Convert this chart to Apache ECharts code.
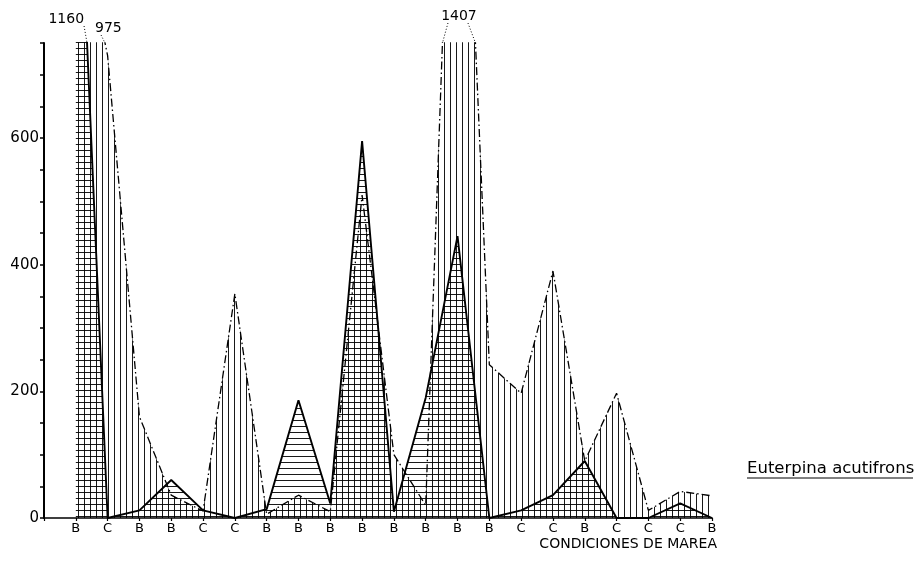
<!DOCTYPE html>
<html><head><meta charset="utf-8">
<script src="https://cdn.jsdelivr.net/npm/echarts@6/dist/echarts.min.js"></script>
<style>html,body{margin:0;padding:0;background:#fff}#c{width:918px;height:565px}</style>
</head><body><div id="c"></div>
<script>
// Tide condition categories (first slot is the empty origin position)
const categories = ['', 'B','C','B','B','C','C','B','B','B','B','B','B','B','B','C','C','B','C','C','C','B'];
// Solid-line series (horizontal hatching)
const solidValues = [null, 1160, 0, 12, 60, 12, 0, 14, 186, 23, 595, 10, 190, 445, 0, 12, 36, 90, 0, 0, 23, 0];
// Dash-dot series (vertical hatching)
const dashValues  = [null, 975, 730, 160, 36, 11, 354, 6, 36, 10, 510, 100, 20, 1407, 242, 197, 390, 90, 197, 12, 42, 35];
const yLabelValues = [0, 200, 400, 600];
const yMax = 750;
const yStep = 50;
const offChartLabels = [
  { series: 'solid', index: 1, text: '1160' },
  { series: 'dash', index: 1, text: '975' },
  { series: 'dash', index: 13, text: '1407' }
];
const axisName = 'CONDICIONES DE MAREA';
const speciesName = 'Euterpina acutifrons';

function hatch(dir, step) {
  const c = document.createElement('canvas');
  c.width = step; c.height = step;
  const g = c.getContext('2d');
  g.fillStyle = 'rgba(0,0,0,0.9)';
  if (dir === 'h') g.fillRect(0, 0, step, 1); else g.fillRect(0, 0, 1, step);
  return c;
}

const FONT = 'DejaVu Sans';
const chart = echarts.init(document.getElementById('c'));
chart.setOption({
  backgroundColor: '#fff',
  animation: false,
  grid: { left: 44, right: 206, top: 43, bottom: 47, containLabel: false },
  xAxis: {
    type: 'category', data: categories, boundaryGap: false,
    axisLine: { lineStyle: { color: '#000', width: 1.6 } },
    axisTick: { show: true, length: 3, lineStyle: { color: '#000', width: 1.2 }, interval: 0 },
    axisLabel: { interval: 0, color: '#000', fontFamily: FONT, fontSize: 13, margin: 4 },
    name: axisName, nameLocation: 'end', nameGap: 5,
    nameTextStyle: { color: '#000', fontFamily: FONT, fontSize: 14, align: 'right', verticalAlign: 'top', padding: [19, 0, 0, 0] },
    splitLine: { show: false }
  },
  yAxis: {
    type: 'value', min: 0, max: yMax, interval: yStep,
    axisLine: { show: true, lineStyle: { color: '#000', width: 2 } },
    axisTick: { show: true, length: 4, lineStyle: { color: '#000', width: 1.5 } },
    axisLabel: { color: '#000', fontFamily: FONT, fontSize: 15, margin: 5,
      formatter: v => yLabelValues.includes(v) ? String(v) : '' },
    splitLine: { show: false }
  },
  series: [
    {
      name: 'dash', type: 'line', data: dashValues, symbol: 'none', z: 2,
      lineStyle: { color: '#000', width: 1.3, type: [8, 3, 1.5, 3] },
      areaStyle: { color: { image: hatch('v', 6), repeat: 'repeat' }, opacity: 1 }
    },
    {
      name: 'solid', type: 'line', data: solidValues, symbol: 'none', z: 3,
      lineStyle: { color: '#000', width: 1.9 },
      areaStyle: { color: { image: hatch('h', 6), repeat: 'repeat' }, opacity: 1 }
    }
  ]
});

// Off-chart value labels with dotted leaders, positioned from the axes' own scales
function px(i, v) { return chart.convertToPixel({ xAxisIndex: 0, yAxisIndex: 0 }, [i, v]); }
function exitX(vals, i, j) {
  const a = px(i, vals[i]), b = px(j, vals[j]), top = px(0, yMax)[1];
  const t = (top - a[1]) / (b[1] - a[1]);
  return a[0] + t * (b[0] - a[0]);
}
const topY = px(0, yMax)[1];
const g = [];
offChartLabels.forEach(o => {
  const vals = o.series === 'solid' ? solidValues : dashValues;
  const rightExit = exitX(vals, o.index, o.index + 1);
  const leftExit = vals[o.index - 1] == null ? null : exitX(vals, o.index - 1, o.index);
  const dot = { stroke: '#000', lineWidth: 1, lineDash: [1, 2] };
  if (o.series === 'solid') {
    const tx = rightExit - 3, ty = topY - 24;
    g.push({ type: 'text', x: tx, y: ty, style: { text: o.text, fill: '#000', font: '14px ' + FONT, align: 'right', verticalAlign: 'middle' } });
    g.push({ type: 'line', shape: { x1: tx, y1: ty + 7, x2: rightExit, y2: topY }, style: dot });
  } else if (leftExit == null) {
    const tx = rightExit - 10, ty = topY - 15;
    g.push({ type: 'text', x: tx, y: ty, style: { text: o.text, fill: '#000', font: '14px ' + FONT, align: 'left', verticalAlign: 'middle' } });
    g.push({ type: 'line', shape: { x1: tx + 6, y1: ty + 7, x2: rightExit, y2: topY }, style: dot });
  } else {
    const cx = (leftExit + rightExit) / 2, ty = topY - 27;
    g.push({ type: 'text', x: cx, y: ty, style: { text: o.text, fill: '#000', font: '14px ' + FONT, align: 'center', verticalAlign: 'middle' } });
    g.push({ type: 'line', shape: { x1: cx - 11, y1: ty + 7, x2: leftExit, y2: topY }, style: dot });
    g.push({ type: 'line', shape: { x1: cx + 9, y1: ty + 7, x2: rightExit, y2: topY }, style: dot });
  }
});
// species caption, underlined
g.push({ type: 'text', x: 747, y: 469, style: { text: speciesName, fill: '#000', font: '16.5px ' + FONT, align: 'left', verticalAlign: 'middle' } });
g.push({ type: 'line', shape: { x1: 747, y1: 478, x2: 913, y2: 478 }, style: { stroke: '#000', lineWidth: 1 } });
chart.setOption({ graphic: g });
</script>
</body></html>
